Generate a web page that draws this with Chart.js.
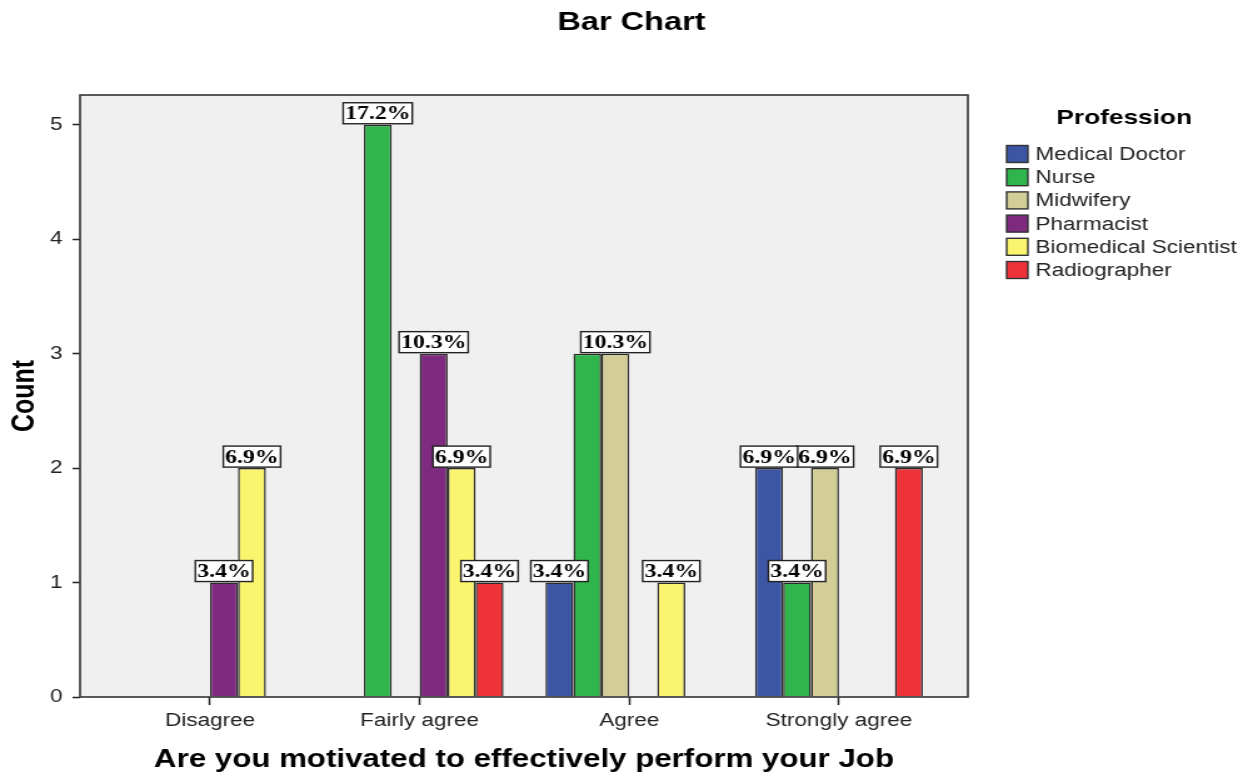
<!DOCTYPE html>
<html>
<head>
<meta charset="utf-8">
<title>Bar Chart</title>
<script src="https://cdn.jsdelivr.net/npm/chart.js@4.4.1/dist/chart.umd.min.js"></script>
<style>
  html, body { margin: 0; padding: 0; background: #fff; }
</style>
</head>
<body>
<!-- drawn on a narrower canvas and widened by CSS, like the SPSS export -->
<canvas id="chart" width="1002" height="777" style="width:1253px;height:777px"></canvas>
<script>
const categories = ['Disagree', 'Fairly agree', 'Agree', 'Strongly agree'];
const professions = ['Medical Doctor', 'Nurse', 'Midwifery', 'Pharmacist', 'Biomedical Scientist', 'Radiographer'];
const professionColors = ['#3c55a5', '#2fb54b', '#d3ce97', '#7e2a7f', '#fbf46e', '#ee3338'];

// respondent counts per profession, in category order (null = none)
const medicalDoctor       = [null, null, 1, 2];
const nurse               = [null, 5, 3, 1];
const midwifery           = [null, null, 3, 2];
const pharmacist          = [1, 3, null, null];
const biomedicalScientist = [2, 2, 1, null];
const radiographer        = [null, 1, null, 2];

const yTicks = [0, 1, 2, 3, 4, 5];

const counts = [medicalDoctor, nurse, midwifery, pharmacist, biomedicalScientist, radiographer];
const total = counts.flat().reduce((s, v) => s + (v || 0), 0);

const SANS = '"Liberation Sans", Arial, sans-serif';

// chart heading, centred on the whole canvas (not just the plot)
const chartHeading = {
    id: 'chartHeading',
    afterDraw(chart) {
        const { ctx, width } = chart;
        ctx.save();
        ctx.fillStyle = '#000';
        ctx.font = 'bold 26px ' + SANS;
        ctx.textAlign = 'center';
        ctx.textBaseline = 'middle';
        ctx.fillText('Bar Chart', width / 2 + 4, 23);
        ctx.restore();
    }
};

// grey plot background and dark frame
const plotFrame = {
    id: 'plotFrame',
    beforeDraw(chart) {
        const { ctx, chartArea: { left, top, width, height } } = chart;
        ctx.save();
        ctx.fillStyle = '#f0f0f0';
        ctx.fillRect(left, top, width, height);
        ctx.restore();
    },
    afterDatasetsDraw(chart) {
        const { ctx, chartArea: { left, top, width, height } } = chart;
        ctx.save();
        ctx.strokeStyle = '#333';
        ctx.lineWidth = 1.6;
        ctx.strokeRect(left, top, width, height);
        ctx.restore();
    }
};

// boxed percentage labels on top of the bars
const barLabels = {
    id: 'barLabels',
    afterDatasetsDraw(chart) {
        const { ctx } = chart;
        const placed = [];
        ctx.save();
        ctx.font = 'bold 19px "Liberation Serif", "Times New Roman", serif';
        ctx.textAlign = 'center';
        ctx.textBaseline = 'middle';
        // later series win when two labels collide
        for (let d = chart.data.datasets.length - 1; d >= 0; d--) {
            const meta = chart.getDatasetMeta(d);
            meta.data.forEach((bar, i) => {
                const count = chart.data.datasets[d].data[i].y;
                if (count == null) return;
                const text = (count / total * 100).toFixed(1) + '%';
                const w = ctx.measureText(text).width + 3;
                const h = 21;
                const x = bar.x - w / 2;
                const y = bar.y - h - 1;
                const tol = 4;
                const hit = placed.some(r =>
                    x + tol < r.x + r.w && r.x + tol < x + w &&
                    y + tol < r.y + r.h && r.y + tol < y + h);
                if (hit) return;
                placed.push({ x, y, w, h });
                ctx.fillStyle = '#fff';
                ctx.fillRect(x, y, w, h);
                ctx.strokeStyle = '#222';
                ctx.lineWidth = 1.4;
                ctx.strokeRect(x, y, w, h);
                ctx.fillStyle = '#000';
                ctx.fillText(text, bar.x, y + h / 2 + 1);
            });
        }
        ctx.restore();
    }
};

// legend with title at the right of the plot
const professionLegend = {
    id: 'professionLegend',
    afterDraw(chart) {
        const { ctx, chartArea } = chart;
        const x0 = chartArea.right + 31;
        ctx.save();
        ctx.fillStyle = '#000';
        ctx.font = 'bold 21px ' + SANS;
        ctx.textAlign = 'center';
        ctx.textBaseline = 'middle';
        ctx.fillText('Profession', x0 + 94, 118);

        ctx.font = '18px ' + SANS;
        ctx.textAlign = 'left';
        chart.data.datasets.forEach((ds, i) => {
            const cy = 154 + i * 23.2;
            ctx.fillStyle = ds.backgroundColor;
            ctx.fillRect(x0, cy - 8.5, 17, 17);
            ctx.strokeStyle = '#333';
            ctx.lineWidth = 1.4;
            ctx.strokeRect(x0, cy - 8.5, 17, 17);
            ctx.fillStyle = '#222';
            ctx.fillText(ds.label, x0 + 23, cy + 1);
        });
        ctx.restore();
    }
};

new Chart(document.getElementById('chart'), {
    type: 'bar',
    data: {
        datasets: professions.map((name, p) => ({
            label: name,
            data: counts[p].map((v, i) => ({ x: i, y: v })),
            backgroundColor: professionColors[p],
            borderColor: '#2b2b2b',
            borderWidth: 1.5,
            borderSkipped: 'bottom',
            categoryPercentage: 0.8,
            barPercentage: 1.0
        }))
    },
    options: {
        responsive: false,
        animation: false,
        events: [],
        layout: { padding: { left: 0, right: 228, top: 95, bottom: 0 } },
        scales: {
            x: {
                type: 'linear',
                offset: false,
                min: -0.62,
                max: 3.615,
                afterBuildTicks: (scale) => {
                    scale.ticks = categories.map((_, i) => ({ value: i }));
                },
                afterFit: (scale) => { scale.height = 80; },
                ticks: {
                    callback: (v) => categories[v],
                    color: '#222',
                    font: { family: SANS, size: 18 },
                    padding: 5,
                    maxRotation: 0,
                    autoSkip: false
                },
                grid: {
                    offset: false,
                    drawOnChartArea: false,
                    drawTicks: true,
                    tickLength: 8,
                    tickWidth: 1.5,
                    tickColor: '#222'
                },
                border: { display: false },
                title: {
                    display: true,
                    text: 'Are you motivated to effectively perform your Job',
                    color: '#000',
                    font: { family: SANS, size: 25, weight: 'bold' },
                    padding: { top: 0, bottom: 2 }
                }
            },
            y: {
                min: 0,
                max: 5.26,
                afterBuildTicks: (scale) => {
                    scale.ticks = yTicks.map(v => ({ value: v }));
                },
                afterFit: (scale) => { scale.width = 64; },
                ticks: {
                    color: '#222',
                    font: { family: SANS, size: 18 },
                    padding: 8
                },
                grid: {
                    drawOnChartArea: false,
                    drawTicks: true,
                    tickLength: 6,
                    tickWidth: 1.5,
                    tickColor: '#222'
                },
                border: { display: false },
                title: {
                    display: true,
                    text: 'Count',
                    color: '#000',
                    font: { family: SANS, size: 25, weight: 'bold' },
                    padding: { top: 5, bottom: 0 }
                }
            }
        },
        plugins: {
            legend: { display: false },
            tooltip: { enabled: false },
            title: { display: false }
        }
    },
    plugins: [chartHeading, plotFrame, barLabels, professionLegend]
});
</script>
</body>
</html>
